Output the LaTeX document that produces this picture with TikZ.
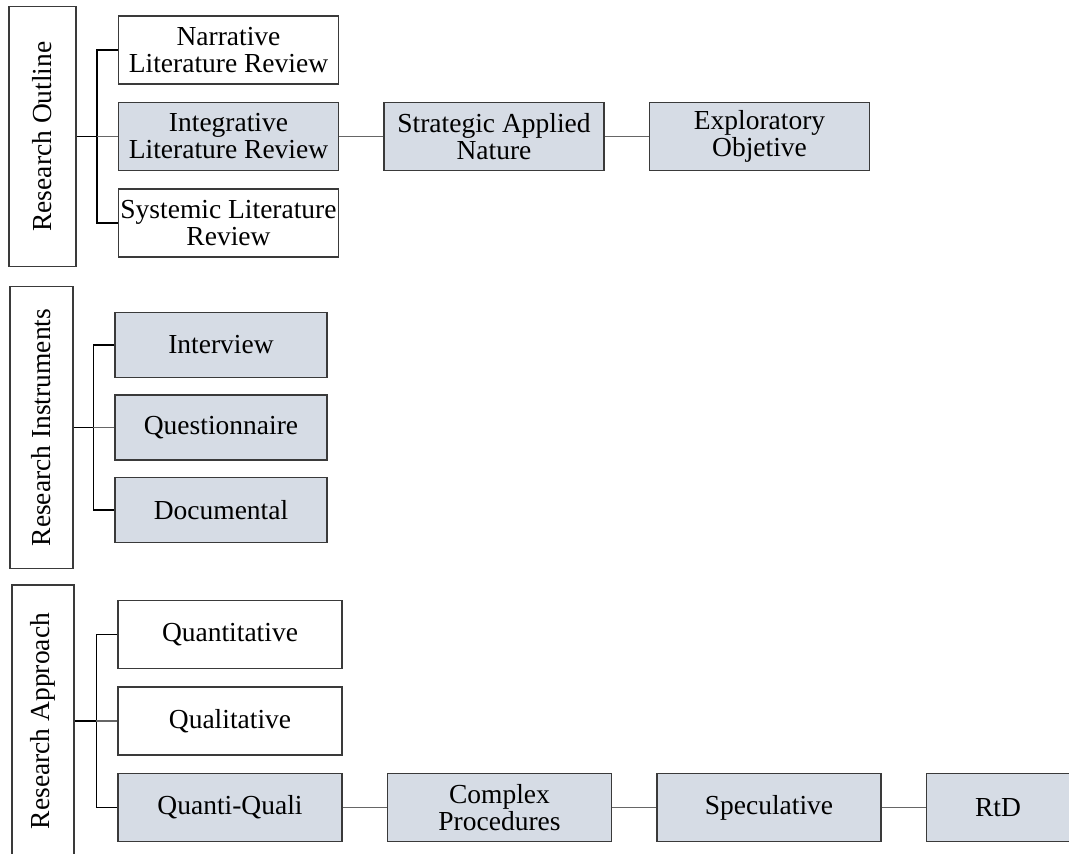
\documentclass[tikz,border=0pt]{standalone}
\usepackage{fontspec}
\setmainfont{Liberation Serif}
\usepackage{graphicx}
\usetikzlibrary{positioning}
\definecolor{boxfill}{HTML}{D6DCE5}
\definecolor{boxline}{HTML}{3A3A3A}
\definecolor{linkgray}{HTML}{666666}
\tikzset{head/.style = {draw=boxline, line width=0.75pt, inner sep=0pt}}
\tikzset{leaf/.style = {draw=boxline, line width=0.75pt, minimum height=34pt, inner sep=0pt, align=center}}
\tikzset{shaded/.style = {leaf, fill=boxfill}}
\tikzset{bracket/.style = {draw=black, line width=0.75pt}}
\tikzset{link/.style = {draw=linkgray, line width=0.9pt}}

\begin{document}
\begin{tikzpicture}[x=0.5pt, y=-0.5pt, node distance=8.5pt, font=\fontsize{13.75}{13.5}\selectfont]
  \path[use as bounding box, clip] (0,0) rectangle (1069,853);

  % research outline
  \node [head, minimum width=33.5pt, minimum height=130pt] (out) at (42.5,136.5) {\rotatebox{90}{Research Outline}};
  \node [shaded, minimum width=110pt] (int) at (228.5,136.5) {Integrative\\Literature Review};
  \node [leaf, minimum width=110pt, above=of int] (nar) {Narrative\\Literature Review};
  \node [leaf, minimum width=110pt, below=of int] (sys) {Systemic Literature\\Review};
  \node [shaded, minimum width=110pt, right=22pt of int] (sap) {Strategic Applied\\Nature};
  \node [shaded, minimum width=110pt, right=22pt of sap] (exo) {Exploratory\\Objetive};

  \path[bracket] (nar.west) -- ++(-10.5pt,0) coordinate (b1) |- (sys.west);
  \path[bracket] (out.east) -- (out.east -| b1);
  \path[link] (out.east -| b1) -- (int.west);
  \path[link] (int) -- (sap);
  \path[link] (sap) -- (exo);

  % research instruments
  \node [head, minimum width=31.5pt, minimum height=141pt] (ins) at (41.5,427.5) {\rotatebox{90}{Research Instruments}};
  \node [shaded, minimum width=106pt, minimum height=32.5pt] (que) at (221,427.5) {Questionnaire};
  \node [shaded, minimum width=106pt, minimum height=32.5pt, above=8pt of que] (itv) {Interview};
  \node [shaded, minimum width=106pt, minimum height=32.5pt, below=8pt of que] (doc) {Documental};

  \path[bracket] (itv.west) -- ++(-10.5pt,0) coordinate (b2) |- (doc.west);
  \path[bracket] (ins.east) -- (ins.east -| b2);
  \path[link] (ins.east -| b2) -- (que.west);

  % research approach
  \node [head, minimum width=31pt, minimum height=136pt] (app) at (43,721) {\rotatebox{90}{Research Approach}};
  \node [leaf, minimum width=112pt] (qual) at (230,721) {Qualitative};
  \node [leaf, minimum width=112pt, above=of qual] (quan) {Quantitative};
  \node [shaded, minimum width=112pt, below=of qual] (qq) {Quanti-Quali};
  \node [shaded, minimum width=112pt, right=22pt of qq] (cpx) {Complex\\Procedures};
  \node [shaded, minimum width=112pt, right=22pt of cpx] (spe) {Speculative};
  \node [shaded, minimum width=71.5pt, right=22pt of spe] (rtd) {RtD};

  \path[bracket] (quan.west) -- ++(-10.5pt,0) coordinate (b3) |- (qq.west);
  \path[bracket] (app.east) -- (app.east -| b3);
  \path[link] (app.east -| b3) -- (qual.west);
  \path[link] (qq) -- (cpx);
  \path[link] (cpx) -- (spe);
  \path[link] (spe) -- (rtd);
\end{tikzpicture}
\end{document}
